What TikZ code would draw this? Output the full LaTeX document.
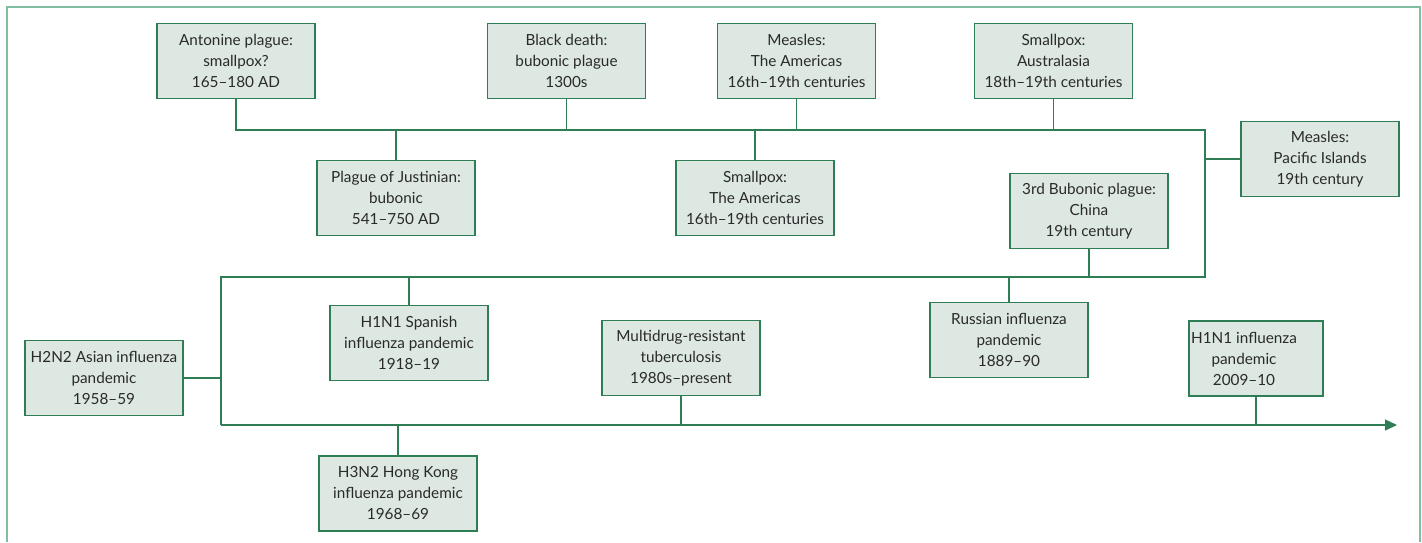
\documentclass[tikz,border=0pt]{standalone}
\usepackage{fontspec}
\setmainfont{Lato}
\usetikzlibrary{arrows.meta}
\definecolor{boxline}{HTML}{2E7D55}
\definecolor{boxfill}{HTML}{DCE8E1}
\definecolor{framecol}{HTML}{7FBF9F}
\definecolor{txt}{HTML}{2A2A2A}
\begin{document}
\begin{tikzpicture}[x=1pt,y=-1pt,
  font=\fontsize{15.3}{21}\selectfont,
  ev/.style={draw=boxline, fill=boxfill, line width=1.3pt, minimum width=158pt, minimum height=75pt, inner sep=0pt, align=center, text=txt},
  conn/.style={draw=boxline, line width=1.3pt}]
\useasboundingbox (0,0) rectangle (1422,542);
\draw[framecol, line width=1.5pt] (7,542) -- (7,7) -- (1420,7) -- (1420,542);

\node[ev] (antonine) at (236,61) {Antonine plague:\\smallpox?\\165–180 AD};
\node[ev] (blackdeath) at (566.5,61) {Black death:\\bubonic plague\\1300s};
\node[ev] (measlesam) at (796.5,61) {Measles:\\The Americas\\16th–19th centuries};
\node[ev] (smallpoxau) at (1053.5,61) {Smallpox:\\Australasia\\18th–19th centuries};
\node[ev] (pacific) at (1320,159) {Measles:\\Pacific Islands\\19th century};
\node[ev] (justinian) at (396,198) {Plague of Justinian:\\bubonic\\541–750 AD};
\node[ev] (smallpoxam) at (755,198) {Smallpox:\\The Americas\\16th–19th centuries};
\node[ev] (bubonic) at (1089,211) {3rd Bubonic plague:\\China\\19th century};
\node[ev] (spanish) at (409,343) {H1N1 Spanish\\influenza pandemic\\1918–19};
\node[ev] (russian) at (1009,340) {Russian influenza\\pandemic\\1889–90};
\node[ev] (asian) at (104,378) {H2N2 Asian influenza\\pandemic\\1958–59};
\node[ev] (mdr) at (681,358) {Multidrug-resistant\\tuberculosis\\1980s–present};
\node[ev, minimum width=134pt] (h1n1) at (1256,358.5) {};
\node[align=center, text=txt, inner sep=0pt] (h1n1text) at (1244,358.5) {H1N1 influenza\\pandemic\\2009–10};
\node[ev] (hongkong) at (398,493.5) {H3N2 Hong Kong\\influenza pandemic\\1968–69};

\coordinate (j1) at (236,130);
\coordinate (j2) at (1205,130);
\coordinate (j3) at (1205,277);
\coordinate (j4) at (221,277);
\coordinate (j5) at (221,425);
\coordinate (tend) at (1397,425);

\draw[conn] (antonine.south) -- (j1) -- (j2) -- (j3) -- (j4) -- (j5);
\draw[conn, -{Triangle[length=12pt,width=11pt]}] (j5) -- (tend);

\draw[conn] (blackdeath.south) -- (blackdeath.south |- j1);
\draw[conn] (measlesam.south) -- (measlesam.south |- j1);
\draw[conn] (smallpoxau.south) -- (smallpoxau.south |- j1);
\draw[conn] (justinian.north) -- (justinian.north |- j1);
\draw[conn] (smallpoxam.north) -- (smallpoxam.north |- j1);
\draw[conn] (pacific.west) -- (pacific.west -| j2);
\draw[conn] (bubonic.south) -- (bubonic.south |- j3);
\draw[conn] (spanish.north) -- (spanish.north |- j3);
\draw[conn] (russian.north) -- (russian.north |- j3);
\draw[conn] (asian.east) -- (asian.east -| j5);
\draw[conn] (mdr.south) -- (mdr.south |- j5);
\draw[conn] (h1n1.south) -- (h1n1.south |- j5);
\draw[conn] (hongkong.north) -- (hongkong.north |- j5);
\end{tikzpicture}
\end{document}
